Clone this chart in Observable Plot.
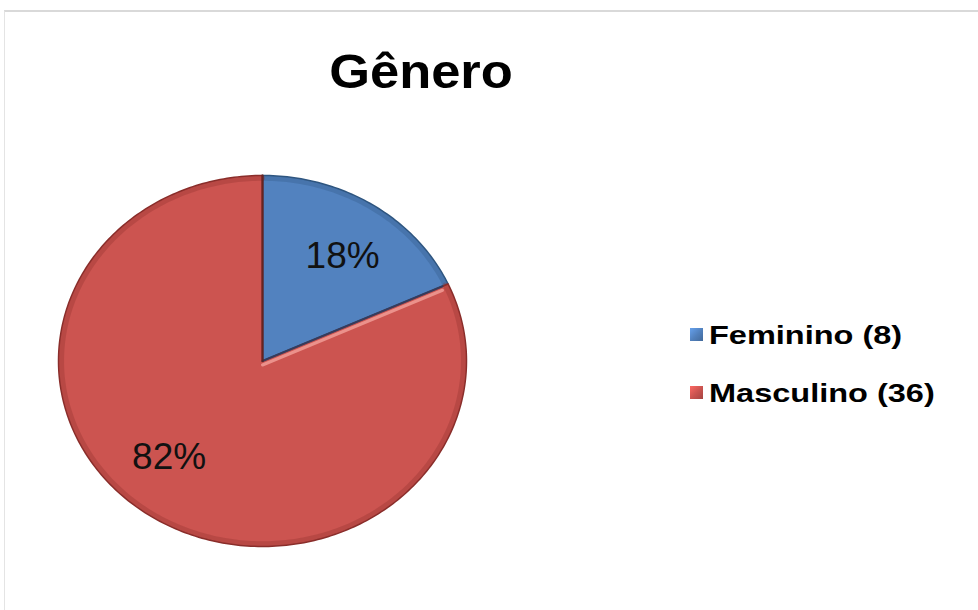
<!DOCTYPE html>
<html>
<head>
<meta charset="utf-8">
<script src="https://cdn.jsdelivr.net/npm/d3@7"></script>
<script src="https://cdn.jsdelivr.net/npm/@observablehq/plot@0.6"></script>
<style>
  html, body { margin: 0; padding: 0; background: #fff; }
  #wrap { position: relative; width: 978px; height: 610px; overflow: hidden; font-family: "Liberation Sans", Arial, sans-serif; }
  #frame { position: absolute; left: 4px; top: 10px; right: -2px; bottom: -2px; border-top: 2px solid #d9d9d9; border-left: 1px solid #e4e4e4; }
  #title { position: absolute; left: 421px; top: 47px; transform: translateX(-50%) scaleX(1.07); font-weight: bold; font-size: 49px; color: #000; white-space: nowrap; line-height: 1; }
  .leg { position: absolute; left: 690px; height: 30px; white-space: nowrap; }
  .sw { position: absolute; left: 0; width: 13px; height: 13px; }
  .lt { position: absolute; left: 19px; font-weight: bold; font-size: 26px; line-height: 1; transform: scaleX(1.25); transform-origin: left center; color: #000; }
  #chart { position: absolute; left: 0; top: 0; }
</style>
</head>
<body>
<div id="wrap">
  <div id="frame"></div>
  <div id="chart"></div>
  <div id="title"></div>
  <div id="legend"></div>
</div>
<script>
const title = "Gênero";
const categories = ["Feminino", "Masculino"];
const counts = [8, 36];
const colors = ["#5282bf", "#cc5450"];
const edgeColors = ["#2f5680", "#8a2e2b"];
const legendLabels = ["Feminino (8)", "Masculino (36)"];

document.getElementById("title").textContent = title;

const total = d3.sum(counts);
const data = categories.map((c, i) => ({name: c, value: counts[i], color: colors[i], edge: edgeColors[i], label: legendLabels[i]}));
const arcs = d3.pie().sort(null).value(d => d.value)(data);

function slicePoints(a, r = 1) {
  const pts = [{x: 0, y: 0, name: a.data.name}];
  const n = Math.max(8, Math.ceil((a.endAngle - a.startAngle) / (Math.PI / 180)));
  for (let k = 0; k <= n; k++) {
    const t = a.startAngle + (a.endAngle - a.startAngle) * k / n;
    pts.push({x: r * Math.sin(t), y: r * Math.cos(t), name: a.data.name});
  }
  return pts;
}
function rimPoints(a, r) {
  const pts = [];
  const n = Math.max(8, Math.ceil((a.endAngle - a.startAngle) / (Math.PI / 180)));
  for (let k = 0; k <= n; k++) {
    const t = a.startAngle + (a.endAngle - a.startAngle) * k / n;
    pts.push({x: r * Math.sin(t), y: r * Math.cos(t)});
  }
  return pts;
}

const labelPos = arcs.map(a => {
  const m = a.startAngle + (a.endAngle - a.startAngle) * 0.53;
  const r = 0.69;
  return {x: r * Math.sin(m), y: r * Math.cos(m), text: Math.round(a.data.value / total * 100) + "%"};
});

const marks = [];
arcs.forEach(a => {
  marks.push(Plot.line(slicePoints(a), {x: "x", y: "y", curve: "linear-closed", fill: a.data.color, stroke: a.data.edge, strokeWidth: 1.5, strokeLinejoin: "round"}));
  marks.push(Plot.line(rimPoints(a, 0.985), {x: "x", y: "y", stroke: a.data.edge, strokeOpacity: 0.3, strokeWidth: 5}));
});
// highlight along the radial edge of the large slice
const split = arcs[0].endAngle;
marks.push(Plot.line([{x: 0, y: 0}, {x: 0.97 * Math.sin(split), y: 0.97 * Math.cos(split)}], {x: "x", y: "y", stroke: "#f2a09a", strokeWidth: 3, strokeOpacity: 0.8, dy: 4}));
marks.push(Plot.line([{x: 0, y: 0}, {x: 0.97 * Math.sin(split), y: 0.97 * Math.cos(split)}], {x: "x", y: "y", stroke: "#233f66", strokeWidth: 2, strokeOpacity: 0.8}));
marks.push(Plot.line([{x: 0, y: 0}, {x: 0, y: 1}], {x: "x", y: "y", stroke: "#5a1f1d", strokeWidth: 2.5, strokeOpacity: 0.7}));
marks.push(Plot.text(labelPos, {x: "x", y: "y", text: "text", fontSize: 37, fill: "#111", fontFamily: "Liberation Sans, Arial, sans-serif"}));

const plot = Plot.plot({
  width: 978,
  height: 610,
  margin: 0,
  x: {domain: [-1, 1], range: [58, 466], axis: null},
  y: {domain: [-1, 1], range: [546, 175], axis: null},
  style: {background: "transparent", overflow: "visible"},
  marks
});
document.getElementById("chart").appendChild(plot);

const legend = document.getElementById("legend");
const tops = [322, 380];
data.forEach((d, i) => {
  const row = document.createElement("div");
  row.className = "leg";
  row.style.top = tops[i] + "px";
  const sw = document.createElement("div");
  sw.className = "sw";
  sw.style.top = "6px";
  sw.style.background = `linear-gradient(135deg, ${d3.color(d.color).brighter(0.6)}, ${d.color} 50%, ${d3.color(d.color).darker(0.6)})`;
  const lt = document.createElement("div");
  lt.className = "lt";
  lt.style.top = "0px";
  lt.textContent = d.label;
  row.appendChild(sw);
  row.appendChild(lt);
  legend.appendChild(row);
});
</script>
</body>
</html>
